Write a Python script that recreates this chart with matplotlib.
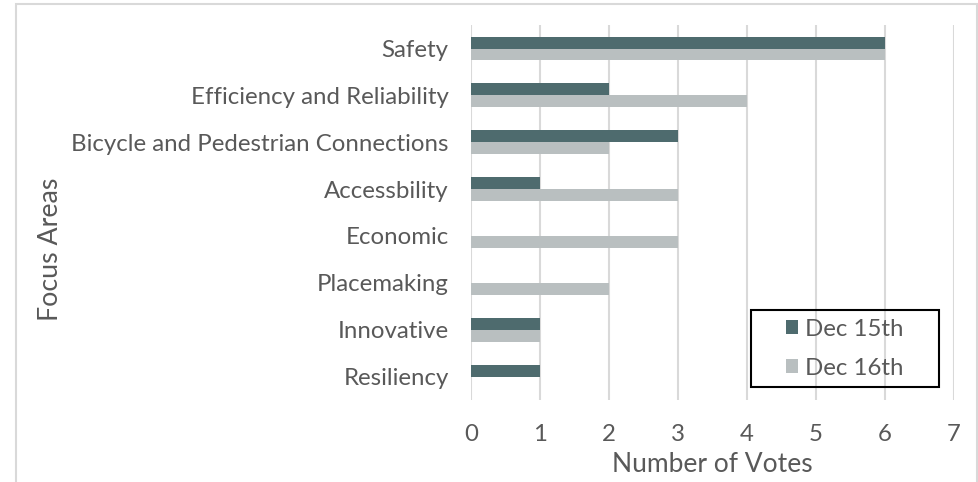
import matplotlib

matplotlib.use("Agg")
import matplotlib.pyplot as plt
import numpy as np
from matplotlib.patches import Rectangle

categories = ["Safety", "Efficiency and Reliability",
              "Bicycle and Pedestrian Connections", "Accessbility",
              "Economic", "Placemaking", "Innovative", "Resiliency"]
dec15 = [6, 2, 3, 1, 0, 0, 1, 1]
dec16 = [6, 4, 2, 3, 3, 2, 1, 0]
x_ticks = [0, 1, 2, 3, 4, 5, 6, 7]

plt.rcParams['font.family'] = ['Lato', 'DejaVu Sans']
text_col = '#595959'

fig = plt.figure(figsize=(9.79, 4.82), dpi=100)
ax = fig.add_axes([0.481, 0.170, 0.4935, 0.778])

y = np.arange(len(categories))
h = 0.255
ax.barh(y - h / 2, dec15, height=h, color='#4E6B6E', label='Dec 15th')
ax.barh(y + h / 2, dec16, height=h, color='#B9BFC0', label='Dec 16th')

ax.set_ylim(len(categories) - 0.5, -0.5)
ax.set_xlim(0, 7)
ax.set_xticks(x_ticks)
ax.set_yticks(y)
ax.set_yticklabels(categories)
ax.tick_params(axis='both', length=0, labelsize=17.3, labelcolor=text_col)
ax.tick_params(axis='y', pad=16)
ax.tick_params(axis='x', pad=17)
ax.xaxis.grid(True, color='#D9D9D9', lw=1.5)
ax.set_axisbelow(True)
for s in ax.spines.values():
    s.set_visible(False)

ax.set_xlabel('Number of Votes', fontsize=19, color=text_col, labelpad=5)
fig.text(0.0515, 0.483, 'Focus Areas', rotation=90, fontsize=19.3,
         color=text_col, ha='center', va='center')

# legend entries without frame, centred in a separately drawn box
leg = ax.legend(loc='center', bbox_to_anchor=(0.7745, 0.1373),
                fontsize=17.3, frameon=False,
                handlelength=0.5, handleheight=0.5, handletextpad=0.3,
                labelspacing=0.75, borderaxespad=0)
for t in leg.get_texts():
    t.set_color(text_col)
ax.add_patch(Rectangle((0.580, 0.035), 0.389, 0.205, transform=ax.transAxes,
                       fill=False, edgecolor='black', lw=1.5, zorder=5,
                       clip_on=False))

# outer chart border
fig.patches.append(Rectangle((0.0165, -0.05), 0.9815, 1.042,
                             transform=fig.transFigure, fill=False,
                             edgecolor='#D9D9D9', lw=1.5))

fig.savefig('out.png', dpi=100, facecolor='white')
